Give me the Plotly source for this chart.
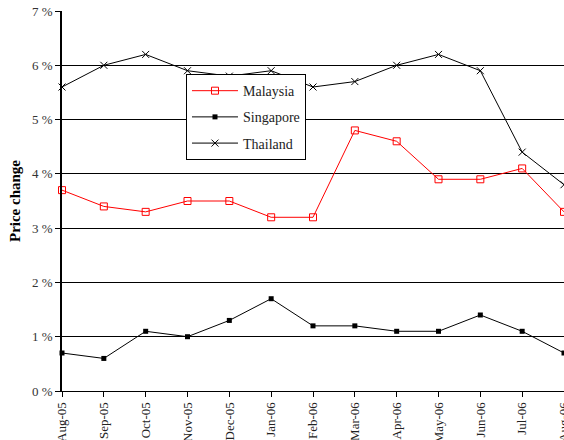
import plotly.graph_objects as go

months = ["Aug-05", "Sep-05", "Oct-05", "Nov-05", "Dec-05", "Jan-06", "Feb-06",
          "Mar-06", "Apr-06", "May-06", "Jun-06", "Jul-06", "Aug-06"]
malaysia = [3.7, 3.4, 3.3, 3.5, 3.5, 3.2, 3.2, 4.8, 4.6, 3.9, 3.9, 4.1, 3.3]
singapore = [0.7, 0.6, 1.1, 1.0, 1.3, 1.7, 1.2, 1.2, 1.1, 1.1, 1.4, 1.1, 0.7]
thailand = [5.6, 6.0, 6.2, 5.9, 5.8, 5.9, 5.6, 5.7, 6.0, 6.2, 5.9, 4.4, 3.8]
yticks = [0, 1, 2, 3, 4, 5, 6, 7]
ytext = [f"{v} %" for v in yticks]

FONT = "Liberation Serif, Times New Roman, serif"

fig = go.Figure()
fig.add_trace(go.Scatter(
    x=months, y=malaysia, name="Malaysia", mode="lines+markers", legendgroup="m",
    line=dict(color="#ff0000", width=1),
    marker=dict(symbol="square-open", size=7, color="#ff0000", line=dict(width=1)),
    cliponaxis=False))
fig.add_trace(go.Scatter(
    x=months, y=singapore, name="Singapore", mode="lines+markers", legendgroup="s",
    line=dict(color="#000000", width=1),
    marker=dict(symbol="square", size=5, color="#000000"),
    cliponaxis=False))
fig.add_trace(go.Scatter(
    x=months, y=thailand, name="Thailand", mode="lines+markers", legendgroup="t",
    line=dict(color="#000000", width=1),
    marker=dict(symbol="x-thin", size=7, color="#000000", line=dict(width=1, color="#000000")),
    cliponaxis=False))

fig.update_layout(
    width=564, height=440,
    margin=dict(l=62, r=0, t=11, b=49, autoexpand=False),
    paper_bgcolor="white", plot_bgcolor="white",
    font=dict(family=FONT, color="#222222", size=13),
    showlegend=True,
    legend=dict(
        x=0.247, y=0.834, xanchor="left", yanchor="top",
        bgcolor="white", bordercolor="#000000", borderwidth=1,
        font=dict(family=FONT, size=14, color="#222222"),
        tracegroupgap=5, itemwidth=46,
    ),
    xaxis=dict(
        type="category", range=[0, 12], automargin=False,
        showline=True, linecolor="#000000", linewidth=1,
        ticks="outside", ticklen=5, tickcolor="#000000",
        tickangle=-90, tickfont=dict(family=FONT, size=13, color="#222222"),
        showgrid=False, zeroline=False,
    ),
    yaxis=dict(
        range=[0, 7], tickvals=yticks, ticktext=ytext, automargin=False,
        showline=True, linecolor="#000000", linewidth=1.5,
        ticks="outside", ticklen=5, tickcolor="#000000",
        showgrid=True, gridcolor="#000000", gridwidth=1,
        zeroline=False,
        tickfont=dict(family=FONT, size=13, color="#333333"),
        title=dict(text="<b>Price change</b>", font=dict(family=FONT, size=15, color="#000000"), standoff=8),
    ),
)

fig.write_html(
    "out.html",
    config={"displayModeBar": False},
    post_script="document.body.style.margin='0';document.body.style.overflow='hidden';",
)
